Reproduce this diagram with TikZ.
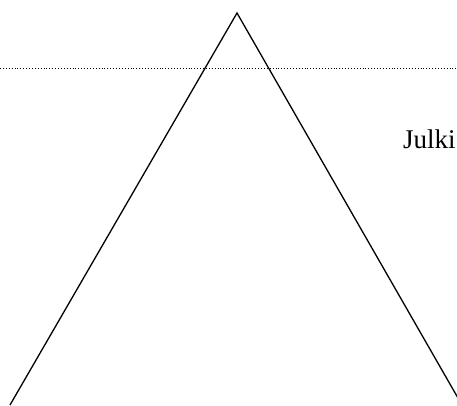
\documentclass[tikz,border=0pt]{standalone}
\usepackage{fontspec}
\setmainfont{Liberation Serif}
\begin{document}
\begin{tikzpicture}[x=1pt,y=1pt,
  edge/.style={line width=1.3pt,black},
  guide/.style={line width=0.9pt,dotted,black},
  label/.style={inner sep=0pt,anchor=base west,font=\fontsize{27}{32}\selectfont}]
\useasboundingbox (0,0) rectangle (457,405);
\clip (0,0) rectangle (457,405);
\coordinate (apex) at (237,392);
\coordinate (bl) at (10,0);
\coordinate (br) at (462,0);
\coordinate (gl) at (0,337);
\coordinate (gr) at (457,337);
\draw[guide] (gl) -- (gr);
\draw[edge] (bl) -- (apex) -- (br);
\node[label] (t) at (403,257) {Julki};
\end{tikzpicture}
\end{document}
